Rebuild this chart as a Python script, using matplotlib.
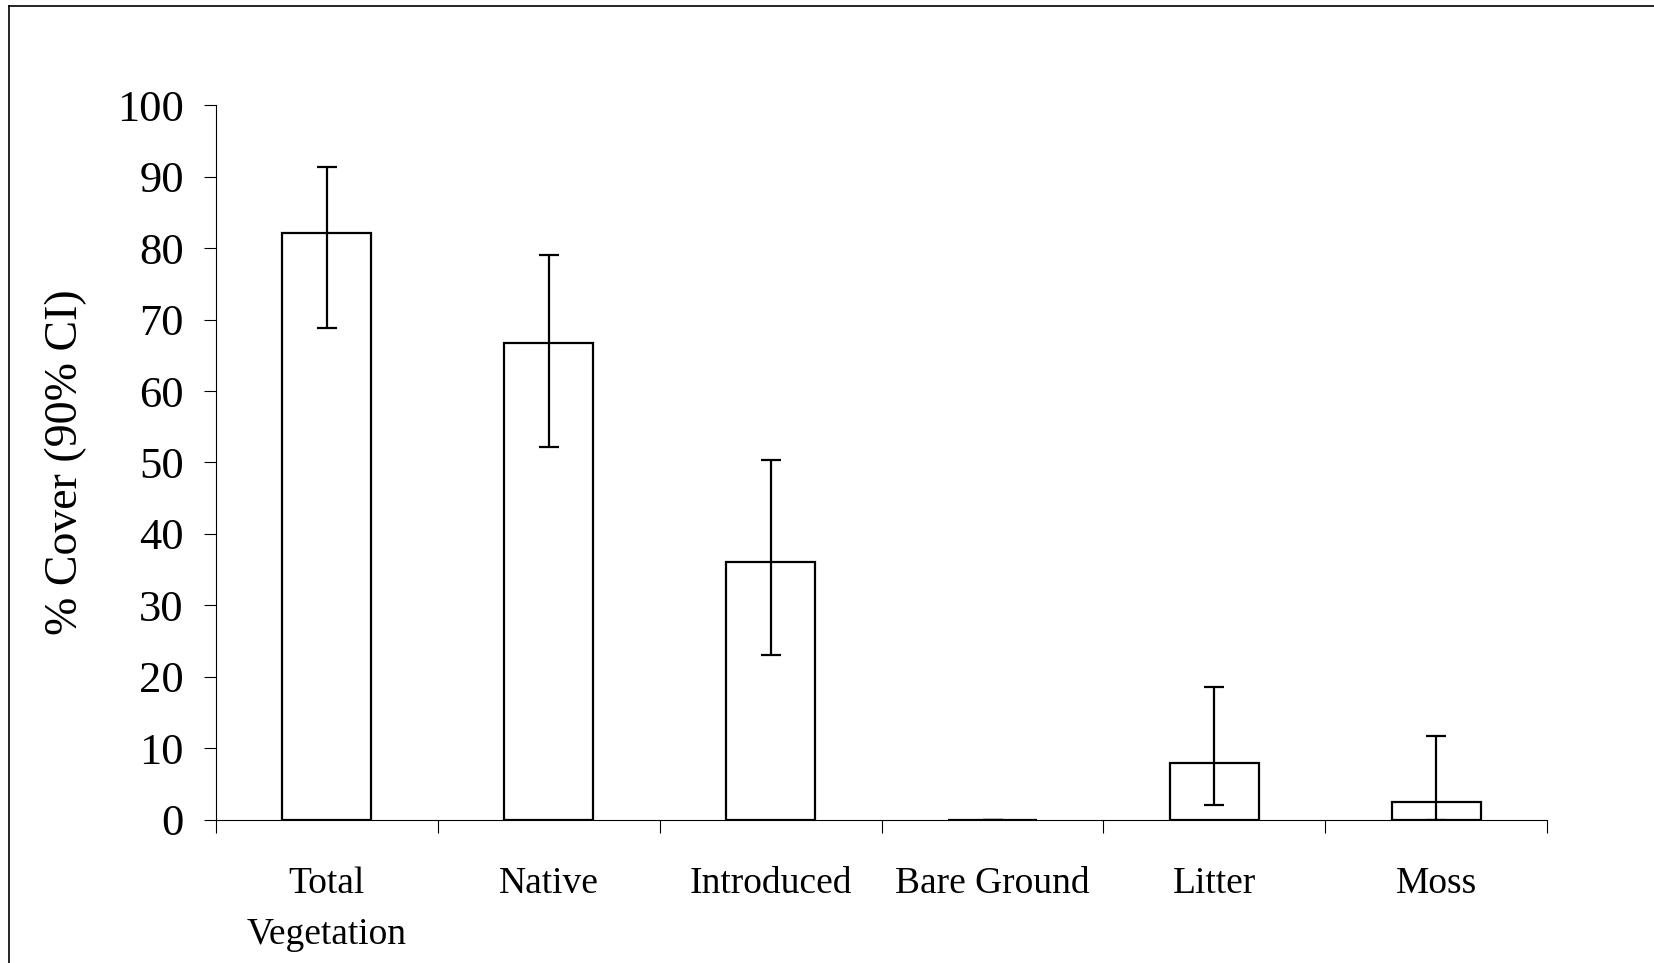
import numpy as np
import matplotlib.pyplot as plt
from matplotlib.lines import Line2D

categories = ['Total\nVegetation', 'Native', 'Introduced', 'Bare Ground', 'Litter', 'Moss']
cover = [82.2, 66.7, 36.0, 0.0, 7.9, 2.4]
ci_low = [68.9, 52.2, 23.0, 0.0, 2.1, 0.0]
ci_high = [91.4, 79.0, 50.3, 0.0, 18.6, 11.7]

plt.rcParams['font.family'] = ['Liberation Serif', 'DejaVu Serif']

fig = plt.figure(figsize=(16.54, 9.63), dpi=100)
ax = fig.add_axes([0.1305, 0.149, 0.805, 0.7415])

x = np.arange(len(categories))
cover = np.array(cover)
yerr = [cover - np.array(ci_low), np.array(ci_high) - cover]

ax.bar(x, cover, width=0.4, facecolor='white', edgecolor='black', linewidth=1.6, zorder=2)
ax.errorbar(x, cover, yerr=yerr, fmt='none', ecolor='black', elinewidth=1.6,
            capsize=7, capthick=1.6, zorder=3)

ax.set_xlim(-0.5, len(categories) - 0.5)
ax.set_ylim(0, 100)
ax.set_yticks(np.arange(0, 101, 10))
ax.set_xticks(x)
ax.set_xticklabels(categories, fontsize=27, linespacing=1.6)
ax.set_xticks(np.arange(-0.5, len(categories), 1), minor=True)
ax.tick_params(axis='x', which='major', length=0, pad=34)
ax.tick_params(axis='x', which='minor', length=9, width=0.8, direction='out')
ax.tick_params(axis='y', length=9, width=0.8, direction='out', labelsize=32, pad=14)

for s in ['top', 'right']:
    ax.spines[s].set_visible(False)
for s in ['left', 'bottom']:
    ax.spines[s].set_linewidth(0.8)

ylab = ax.set_ylabel('% Cover (90% CI)', fontsize=33)
ylab.set_va('center')
ax.yaxis.set_label_coords(-0.1125, 0.5)

# outer frame (top and left edges of the original crop)
fig.add_artist(Line2D([9 / 1654, 9 / 1654], [0, 1 - 6 / 963], transform=fig.transFigure,
                      color='black', linewidth=1.2))
fig.add_artist(Line2D([9 / 1654, 1], [1 - 6 / 963, 1 - 6 / 963], transform=fig.transFigure,
                      color='black', linewidth=1.2))

plt.savefig('out.png', dpi=100)
